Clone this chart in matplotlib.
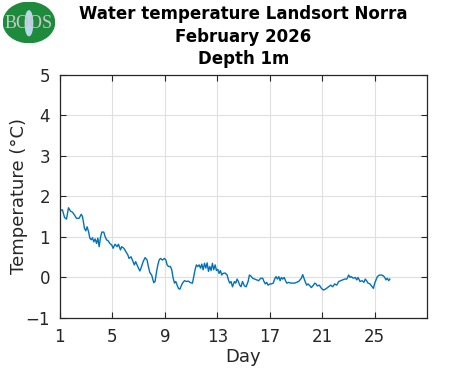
import matplotlib
matplotlib.use("Agg")
import matplotlib.pyplot as plt
from matplotlib.patches import Ellipse

# Day of month (fractional) and water temperature (°C)
days = [1.05, 1.2, 1.36, 1.51, 1.66, 1.81, 1.97, 2.12, 2.27, 2.47, 2.63, 2.73, 2.88, 2.98,
        3.08, 3.19, 3.29, 3.39, 3.49, 3.59, 3.69, 3.8, 3.9, 4.0, 4.1, 4.2, 4.35, 4.45, 4.56,
        4.7, 4.81, 4.96, 5.06, 5.21, 5.37, 5.47, 5.62, 5.72, 5.88, 6.03, 6.18, 6.28, 6.43,
        6.58, 6.68, 6.78, 6.94, 7.1, 7.2, 7.35, 7.5, 7.65, 7.75, 7.86, 8.0, 8.16, 8.26,
        8.37, 8.47, 8.57, 8.67, 8.82, 8.98, 9.08, 9.18, 9.28, 9.43, 9.53, 9.64, 9.74, 9.84,
        9.94, 10.04, 10.15, 10.25, 10.35, 10.5, 10.65, 10.8, 10.96, 11.11, 11.21, 11.31,
        11.41, 11.51, 11.62, 11.72, 11.82, 11.92, 12.03, 12.13, 12.23, 12.33, 12.43, 12.53,
        12.63, 12.73, 12.84, 12.94, 13.04, 13.14, 13.24, 13.34, 13.44, 13.6, 13.75, 13.85,
        13.95, 14.05, 14.16, 14.31, 14.41, 14.51, 14.61, 14.71, 14.81, 14.92, 15.07, 15.2,
        15.35, 15.45, 15.55, 15.7, 15.85, 16.0, 16.15, 16.31, 16.46, 16.56, 16.66, 16.77,
        16.87, 17.02, 17.12, 17.27, 17.37, 17.48, 17.58, 17.69, 17.79, 17.89, 17.99, 18.1,
        18.2, 18.3, 18.45, 18.6, 18.75, 18.9, 19.05, 19.2, 19.3, 19.41, 19.51, 19.61,
        19.72, 19.82, 19.92, 20.07, 20.17, 20.33, 20.43, 20.53, 20.63, 20.78, 20.94, 21.09,
        21.24, 21.4, 21.55, 21.65, 21.8, 21.95, 22.1, 22.26, 22.41, 22.56, 22.71, 22.87,
        23.02, 23.12, 23.22, 23.37, 23.52, 23.63, 23.73, 23.88, 24.03, 24.18, 24.28, 24.38,
        24.49, 24.64, 24.8, 24.9, 25.0, 25.1, 25.2, 25.36, 25.51, 25.66, 25.76, 25.86,
        25.96, 26.07, 26.15]
temps = [1.65, 1.67, 1.48, 1.44, 1.72, 1.64, 1.61, 1.54, 1.46, 1.46, 1.56, 1.50, 1.21, 1.15,
         1.25, 1.13, 0.97, 0.93, 0.98, 0.88, 0.95, 0.84, 0.97, 0.76, 0.99, 1.12, 1.12, 1.01,
         0.93, 0.90, 0.84, 0.80, 0.72, 0.82, 0.76, 0.82, 0.68, 0.76, 0.72, 0.64, 0.56, 0.47,
         0.51, 0.39, 0.31, 0.39, 0.27, 0.16, 0.24, 0.39, 0.49, 0.43, 0.27, 0.12, 0.06, -0.13,
         -0.10, 0.14, 0.31, 0.43, 0.47, 0.43, 0.47, 0.43, 0.31, 0.27, 0.27, 0.19, -0.02,
         -0.14, -0.10, -0.19, -0.27, -0.29, -0.21, -0.14, -0.08, -0.10, -0.09, -0.13, -0.14,
         0.02, 0.19, 0.31, 0.27, 0.31, 0.23, 0.33, 0.19, 0.35, 0.23, 0.36, 0.15, 0.27, 0.17,
         0.35, 0.19, 0.31, 0.17, 0.20, 0.10, 0.17, 0.06, 0.10, 0.11, 0.06, -0.06, -0.14,
         -0.10, -0.23, -0.10, -0.14, -0.04, -0.10, -0.19, -0.23, -0.10, -0.21, -0.23, -0.10,
         0.06, 0.04, -0.02, -0.04, -0.06, -0.08, -0.02, -0.02, -0.10, -0.16, -0.12, -0.19,
         -0.16, -0.16, -0.14, -0.04, 0.02, -0.04, 0.02, -0.08, 0.00, -0.04, 0.00, -0.08,
         -0.14, -0.12, -0.14, -0.14, -0.14, -0.12, -0.10, -0.06, -0.02, 0.07, -0.02, -0.12,
         -0.19, -0.16, -0.21, -0.25, -0.19, -0.14, -0.16, -0.21, -0.19, -0.27, -0.31, -0.29,
         -0.25, -0.21, -0.19, -0.23, -0.16, -0.19, -0.10, -0.08, -0.06, -0.04, -0.04, 0.06,
         0.00, 0.02, -0.02, 0.00, -0.06, 0.00, -0.10, -0.08, -0.12, -0.04, -0.08, -0.14,
         -0.16, -0.23, -0.27, -0.14, -0.06, 0.02, 0.06, 0.06, 0.04, 0.00, -0.06, -0.02,
         -0.08, -0.04]

title_lines = ["Water temperature Landsort Norra", "February 2026", "Depth 1m"]
xticks = [1, 5, 9, 13, 17, 21, 25]
yticks = [-1, 0, 1, 2, 3, 4, 5]

plt.rcParams['font.family'] = ['DejaVu Sans']

fig = plt.figure(figsize=(4.71, 3.71), dpi=100)
ax = fig.add_axes([0.127, 0.143, 0.78, 0.655])

ax.plot(days, temps, color='#0072BD', linewidth=1.0)
ax.set_xlim(1, 29)
ax.set_ylim(-1, 5)
ax.set_xticks(xticks)
ax.set_yticks(yticks)
ax.grid(True, color='#DFDFDF', linewidth=0.8)
ax.set_axisbelow(True)
ax.tick_params(direction='in', top=True, right=True, length=4, width=0.8,
               labelsize=12, colors='#262626', pad=7)
for s in ax.spines.values():
    s.set_color('#262626')
    s.set_linewidth(0.9)
ax.set_xlabel('Day', fontsize=13, color='#262626', labelpad=2)
ax.set_ylabel('Temperature (°C)', fontsize=13, color='#262626', labelpad=-2)
ax.set_title("\n".join(title_lines), fontsize=12, fontweight='bold',
             linespacing=1.3, pad=8)

# logo
logo = fig.add_axes([0.006, 0.884, 0.111, 0.111])
logo.set_xlim(0, 1)
logo.set_ylim(0, 1)
logo.axis('off')
logo.add_patch(Ellipse((0.5, 0.5), 0.98, 0.98, color='#1E8A3C'))
logo.add_patch(Ellipse((0.5, 0.48), 0.14, 0.6, color='#B8D8EC'))
logo.text(0.5, 0.48, 'BOOS', ha='center', va='center', fontsize=13,
          family='Liberation Serif', color='#C8C8C8')

fig.savefig('out.png', dpi=100)
